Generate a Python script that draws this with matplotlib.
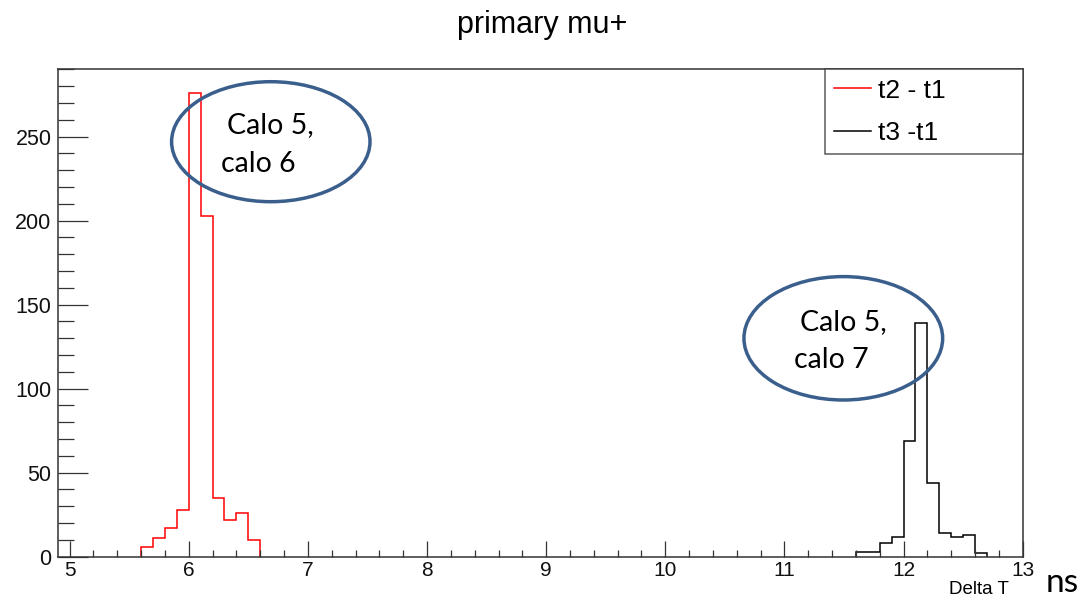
import numpy as np
import matplotlib
matplotlib.use("Agg")
import matplotlib.pyplot as plt
from matplotlib.patches import Ellipse
from matplotlib.ticker import MultipleLocator


# histogram data (Delta T in ns, bin width 0.1)
red_edges = [5.6, 5.7, 5.8, 5.9, 6.0, 6.1, 6.2, 6.3, 6.4, 6.5, 6.6]
red_counts = [6, 11, 17, 28, 276, 203, 35, 22, 26, 10]

black_edges = [11.6, 11.7, 11.8, 11.9, 12.0, 12.1, 12.2, 12.3, 12.4, 12.5, 12.6, 12.7]
black_counts = [3, 3, 8, 12, 69, 139, 44, 14, 12, 13, 2]

labels = ["t2 - t1", "t3 -t1"]
title = "primary mu+"
xlabel = "Delta T"

W, H = 1084, 604
root_font = "Liberation Sans"
note_font = "Lato"
frame_col = "#333333"
oval_col = "#3B5F8C"


def fx(px):
    return px / W


def fy(py):
    return 1 - py / H


fig = plt.figure(figsize=(W / 100, H / 100), dpi=100)
ax = fig.add_axes([fx(57.7), fy(556.7), fx(1022.7 - 57.7), (556.7 - 69.3) / H])

ax.stairs(red_counts, red_edges, color="#ff0000", linewidth=1.1, label=labels[0], baseline=0)
ax.stairs(black_counts, black_edges, color="black", linewidth=1.1, label=labels[1], baseline=0)

ax.set_xlim(4.9, 13.0)
ax.set_ylim(0, 290)

ax.xaxis.set_major_locator(MultipleLocator(1))
ax.xaxis.set_minor_locator(MultipleLocator(0.2))
ax.yaxis.set_major_locator(MultipleLocator(50))
ax.yaxis.set_minor_locator(MultipleLocator(10))

ax.tick_params(axis="x", which="major", direction="in", length=11.5, width=0.9,
               color=frame_col, pad=3, labelsize=15)
ax.tick_params(axis="x", which="minor", direction="in", length=5.3, width=0.9, color=frame_col)
ax.tick_params(axis="y", which="major", direction="in", length=21.5, width=0.9,
               color=frame_col, pad=4.5, labelsize=15.5)
ax.tick_params(axis="y", which="minor", direction="in", length=11.5, width=0.9, color=frame_col)
for lab in ax.get_xticklabels() + ax.get_yticklabels():
    lab.set_fontfamily(root_font)
    lab.set_color("#111111")

for sp in ax.spines.values():
    sp.set_color(frame_col)
    sp.set_linewidth(1.1)

leg = ax.legend(
    loc="upper left",
    bbox_to_anchor=(0.7954, 0.0, 0.2046, 1.0),
    mode="expand",
    borderaxespad=0,
    frameon=True,
    fancybox=False,
    edgecolor=frame_col,
    prop={"family": root_font, "size": 19},
    handlelength=1.4,
    handletextpad=0.25,
    labelspacing=0.7,
    borderpad=0.35,
)
leg.get_frame().set_linewidth(1.1)

fig.text(0.5, fy(33), title, ha="center", va="baseline", fontsize=22, family=root_font)
fig.text(fx(1009), fy(594), xlabel, ha="right", va="baseline", fontsize=13.5, family=root_font)
fig.text(fx(1046), fy(592), "ns", ha="left", va="baseline", fontsize=24, family=note_font)

# hand-drawn annotation ovals
ax.add_patch(Ellipse((fx(270.8), fy(141.7)), fx(198.4), 120 / H, transform=fig.transFigure,
                     fill=False, edgecolor=oval_col, linewidth=2.5, clip_on=False, zorder=5))
ax.add_patch(Ellipse((fx(843.3), fy(338.3)), fx(198.7), 123.4 / H, transform=fig.transFigure,
                     fill=False, edgecolor=oval_col, linewidth=2.5, clip_on=False, zorder=5))

notes = [(226.7, 133, "Calo 5,"), (220.7, 171.7, "calo 6"),
         (800, 330, "Calo 5,"), (794, 368.3, "calo 7")]
for x, y, s in notes:
    fig.text(fx(x), fy(y), s, ha="left", va="baseline", fontsize=20.5, family=note_font)

plt.savefig("out.png", dpi=100)
